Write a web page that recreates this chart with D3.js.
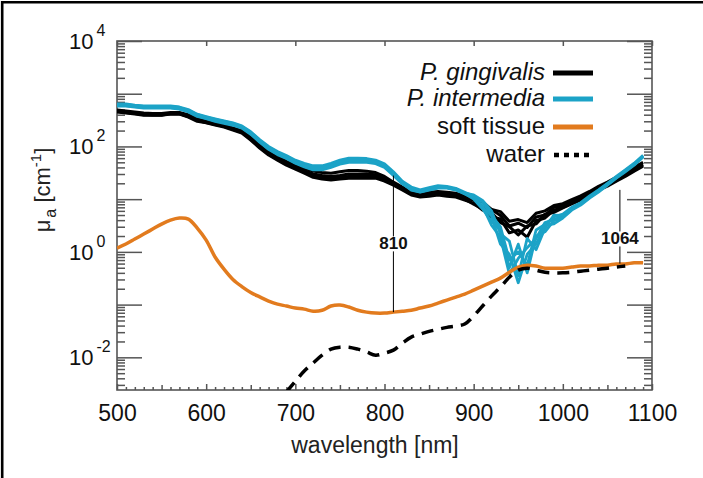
<!DOCTYPE html>
<html><head><meta charset="utf-8">
<script src="https://cdn.jsdelivr.net/npm/d3@7"></script>
<style>
body{margin:0;background:#fff}
svg{display:block}
text{font-family:"Liberation Sans",Arial,Helvetica,sans-serif}
</style>
</head><body>
<svg id="c" width="703" height="478"></svg>
<script>
// ---------------- data ----------------
const wavelengths = [500,510,520,530,540,550,560,570,580,590,
  600,610,620,630,640,650,660,670,680,690,
  700,710,720,730,740,750,760,770,780,790,
  800,810,820,830,840,850,860,870,880,890,
  900,910,920,930,940,950,960,970,980,990,
  1000,1010,1020,1030,1040,1050,1060,1070,1080,1090];

const gingivalis1 = [450,430,410,390,390,390,410,410,360,300,
  280,255,233,205,180,132,93,69,55,44,
  37,31,26,24,23,24,25,25,25,25,
  22,18.5,14.9,12,11,11.4,12,11.4,11,9.6,
  8.4,6.2,5.6,3.6,3.0,2.1,3.1,3.4,5.2,5.6,
  6.8,8.1,9.6,12,14.9,17.7,22,27,34,42];
const gingivalis2 = [470,450,430,410,400,400,420,420,380,320,
  290,265,245,215,190,140,100,75,60,48,
  41,35,30,28,27,28,30,30,30,29,
  25,20,16,13,12,12.5,13,12.5,12,10.5,
  9.6,7.0,6.4,4.9,3.1,3.5,2.9,4.6,5.0,7.0,
  7.4,9.0,10.5,13,16,19.5,24,30,37,46];
const gingivalis3 = [490,470,450,430,420,420,440,440,400,340,
  305,280,255,225,200,150,107,80,64,52,
  45,39,34,32,31,33,35,35,34,32,
  27,21,17,14,13,13.5,14,13.5,13,11.5,
  9.8,8.9,6.4,5.8,3.8,4.1,3.6,5.4,6.0,7.6,
  8.2,9.8,11.5,14,17.5,21,26,32,40,50];
const gingivalis4 = [460,440,420,400,395,395,415,415,370,310,
  285,260,240,210,185,136,96,72,57,46,
  39,33,28,26,25,26,27,27,27,27,
  23,19,15.5,12.5,11.5,12,12.5,12,11.5,10,
  8.0,6.5,4.6,4.2,2.3,2.6,1.9,3.9,4.4,6.2,
  7.0,8.5,10,12.5,15.5,18.5,23,28.5,35,44];

const intermedia1 = [610,610,580,560,560,560,560,535,470,390,
  350,317,290,266,233,180,127,93,75,63,
  51,44,39,39,44,51,55,55,55,51,
  44,30,20,14.9,13.6,14.9,16.2,16.2,14.9,12.5,
  10.5,7.0,4.8,1.4,0.9,0.26,0.9,1.4,3.2,3.4,
  4.4,6.2,7.7,10.5,13.6,18.5,25,33,44,63];
const intermedia2 = [640,640,610,590,590,590,590,560,500,410,
  370,335,305,280,245,190,135,100,80,67,
  55,48,43,43,48,55,60,60,59,55,
  47,33,22,17,15,16.5,18,17.5,16,13.5,
  11.5,8.8,5.0,3.0,0.7,1.0,0.55,2.6,3.3,4.6,
  5.2,7.0,8.6,11.5,15,20,27,36,48,68];
const intermedia3 = [580,580,555,535,535,535,535,510,450,370,
  335,300,275,252,222,170,120,88,70,59,
  48,41,36,36,40,46,50,50,50,47,
  40,28,19.5,15.5,14,15.5,17,16.8,15.5,13,
  11,7.4,3.2,1.9,0.38,0.75,1.2,1.8,3.6,4.1,
  4.8,6.6,8.2,11,14.2,19,26,35,46,66];
const intermedia4 = [625,625,595,575,575,575,575,548,485,400,
  360,326,298,273,239,185,131,96,77,65,
  53,46,41,41,46,53,57,57,57,53,
  45,31,21,16,14.3,15.7,17.1,16.8,15.5,13,
  12,9.5,6.0,2.2,1.6,0.35,1.8,1.1,2.8,5.0,
  4.9,6.8,8.0,11,14.5,19.5,26,34.5,46,65];
const intermedia5 = [595,595,568,548,548,548,548,522,460,380,
  342,308,282,259,228,175,123,90,72,61,
  49,42,37,37,42,48,52,52,52,49,
  42,29,19.8,15.2,13.8,15.2,16.6,16.5,15.2,12.8,
  10,6.5,3.8,2.6,0.5,1.4,0.4,2.0,2.4,3.9,
  4.6,6.4,8.0,10.8,14,18.8,25.5,34,45,64];

const softTissue = [1.18,1.41,1.75,2.18,2.71,3.37,4.0,4.38,4.19,2.83,
  1.67,0.80,0.47,0.30,0.22,0.17,0.14,0.117,0.102,0.094,
  0.086,0.082,0.075,0.078,0.094,0.098,0.090,0.078,0.072,0.069,
  0.069,0.072,0.075,0.078,0.086,0.094,0.107,0.122,0.139,0.158,
  0.188,0.224,0.267,0.318,0.41,0.515,0.56,0.54,0.49,0.49,
  0.49,0.515,0.54,0.54,0.56,0.56,0.59,0.59,0.62,0.62];

const water = [null,null,null,null,null,null,null,null,null,null,
  null,null,null,null,null,null,null,null,null,0.0022,
  0.0035,0.0055,0.0078,0.011,0.0143,0.0156,0.0156,0.0143,0.0126,0.011,
  0.012,0.0137,0.0186,0.0242,0.0276,0.031,0.034,0.037,0.039,0.043,
  0.061,0.094,0.145,0.215,0.33,0.45,0.49,0.45,0.41,0.40,
  0.40,0.41,0.43,0.45,0.47,0.49,0.515,0.54,null,null];

const legendLabels = ["P. gingivalis","P. intermedia","soft tissue","water"];
const xTickLabels = [500,600,700,800,900,1000,1100];
const yTickExponents = [4,2,0,-2];
const annotWavelengths = [810,1064];
const annotTop = [28,15];
const annotBottom = [0.072,0.6];
const annotLabelAt = [1.45,1.8];
const annotLabels = ["810","1064"];

// ---------------- drawing ----------------
const svg = d3.select("#c");
const L=117,R=652,T=41,B=390;
const x = d3.scaleLinear().domain([500,1100]).range([L,R]);
const y = d3.scaleLog().domain([0.0024,1e4]).range([B,T]);

// outer frame (left + top only)
svg.append("path").attr("d","M2.2,478V2.2H703").attr("fill","none").attr("stroke","#000").attr("stroke-width",2.6);

svg.append("defs").append("clipPath").attr("id","clip")
  .append("rect").attr("x",L).attr("y",T).attr("width",R-L).attr("height",B-T);

const axisColor="#555";
function styleAxis(g){
  g.select(".domain").remove();
  g.selectAll("line").attr("stroke",axisColor).attr("stroke-width",1.5);
  g.selectAll("text").remove();
}
// x ticks
const xAll = d3.range(500,1101,10);
const xMajor = xAll.filter(v=>v%100===0);
const xMid = xAll.filter(v=>v%100!==0 && v%50===0);
const xMinor = xAll.filter(v=>v%50!==0);
[[xMajor,6],[xMid,5],[xMinor,3]].forEach(([vals,s])=>{
  svg.append("g").attr("transform",`translate(0,${B})`).call(d3.axisBottom(x).tickValues(vals).tickSize(-s).tickSizeOuter(0)).call(styleAxis);
});
svg.append("g").attr("transform",`translate(0,${T})`).call(d3.axisTop(x).tickValues(xMajor).tickSize(-5).tickSizeOuter(0)).call(styleAxis);

// y ticks
const yMajor=[], yMinor=[];
for(let k=-3;k<=4;k++){
  if(Math.pow(10,k)>=0.0024) yMajor.push(Math.pow(10,k));
  if(k<4) for(let m=2;m<=9;m++){const v=m*Math.pow(10,k); if(v>=0.0024 && v<=1e4) yMinor.push(v);}
}
[[yMajor,25],[yMinor,8]].forEach(([vals,s])=>{
  svg.append("g").attr("transform",`translate(${L},0)`).call(d3.axisLeft(y).tickValues(vals).tickSize(-s).tickSizeOuter(0)).call(styleAxis);
  svg.append("g").attr("transform",`translate(${R},0)`).call(d3.axisRight(y).tickValues(vals).tickSize(-s).tickSizeOuter(0)).call(styleAxis);
});

// plot frame
svg.append("rect").attr("x",L).attr("y",T).attr("width",R-L).attr("height",B-T)
  .attr("fill","none").attr("stroke",axisColor).attr("stroke-width",1.6);

// x tick labels
svg.append("g").attr("transform",`translate(0,${B})`)
  .call(d3.axisBottom(x).tickValues(xTickLabels).tickSize(0).tickPadding(15).tickFormat(d3.format("d")))
  .call(g=>{g.select(".domain").remove();
    g.selectAll("text").attr("font-size",23).attr("fill","#111").attr("font-family",'"Liberation Sans",Arial,sans-serif');});

// y tick labels 10^k
const yl = svg.append("g");
yTickExponents.forEach(k=>{
  const t = yl.append("text").attr("x",69).attr("y",y(Math.pow(10,k))+8).attr("font-size",22).attr("fill","#111");
  t.append("tspan").text("10");
  t.append("tspan").attr("dx",3).attr("dy",-13).attr("font-size",16).text(String(k));
});

// axis titles
svg.append("text").attr("x",375).attr("y",453).attr("text-anchor","middle")
  .attr("font-size",23).attr("fill","#222").text("wavelength [nm]");
const yt = svg.append("text").attr("transform","translate(50,190) rotate(-90)")
  .attr("text-anchor","middle").attr("font-size",22).attr("fill","#222");
yt.append("tspan").text("μ");
yt.append("tspan").attr("dy",6).attr("dx",2).attr("font-size",16).text("a");
yt.append("tspan").attr("dy",-6).text(" [cm");
yt.append("tspan").attr("dy",-9).attr("font-size",15).text("-1");
yt.append("tspan").attr("dy",9).text("]");

// series
const plot = svg.append("g").attr("clip-path","url(#clip)");
const lineGen = d3.line().defined(d=>d[1]!=null).x(d=>x(d[0])).y(d=>y(d[1]));
const smoothGen = d3.line().defined(d=>d[1]!=null).x(d=>x(d[0])).y(d=>y(d[1])).curve(d3.curveCatmullRom.alpha(0.5));
const pts = arr => wavelengths.map((w,i)=>[w,arr[i]]);

[gingivalis1,gingivalis2,gingivalis3,gingivalis4].forEach(s=>{
  plot.append("path").attr("d",lineGen(pts(s))).attr("fill","none")
    .attr("stroke","#000").attr("stroke-width",3).attr("stroke-linejoin","round");
});
[intermedia3,intermedia5,intermedia2,intermedia4,intermedia1].forEach(s=>{
  plot.append("path").attr("d",lineGen(pts(s))).attr("fill","none")
    .attr("stroke","#1ca3c7").attr("stroke-width",2.8).attr("stroke-linejoin","round");
});
plot.append("path").attr("d",smoothGen(pts(softTissue))).attr("fill","none")
  .attr("stroke","#e27b1e").attr("stroke-width",3.5);
plot.append("path").attr("d",smoothGen(pts(water))).attr("fill","none")
  .attr("stroke","#000").attr("stroke-width",3.5).attr("stroke-dasharray","12,8");

// annotations
annotWavelengths.forEach((w,i)=>{
  svg.append("line").attr("x1",x(w)).attr("x2",x(w)).attr("y1",y(annotTop[i])).attr("y2",y(annotBottom[i]))
    .attr("stroke","#000").attr("stroke-width",1);
  const t = svg.append("text").attr("x",x(w)).attr("y",y(annotLabelAt[i])+6).attr("text-anchor","middle")
    .attr("font-size",17).attr("font-weight","bold").attr("fill","#111").text(annotLabels[i]);
  const bb = t.node().getBBox();
  svg.insert("rect", () => t.node()).attr("x",bb.x-1).attr("y",bb.y+2).attr("width",bb.width+2).attr("height",bb.height-4).attr("fill","#fff");
});

// legend
const legColors=["#000","#1ca3c7","#e27b1e","#000"];
const legY=[73,99,127,155];
legendLabels.forEach((lab,i)=>{
  svg.append("text").attr("x",545).attr("y",legY[i]+7).attr("text-anchor","end")
    .attr("font-size",24).attr("fill","#111").attr("font-style",i<2?"italic":"normal").text(lab);
  const ln = svg.append("line").attr("x1",553).attr("x2",593).attr("y1",legY[i]).attr("y2",legY[i])
    .attr("stroke",legColors[i]).attr("stroke-width",5);
  if(i===3) ln.attr("stroke-dasharray","5,5").attr("x1",554).attr("stroke-width",4.5);
});
</script>
</body></html>
